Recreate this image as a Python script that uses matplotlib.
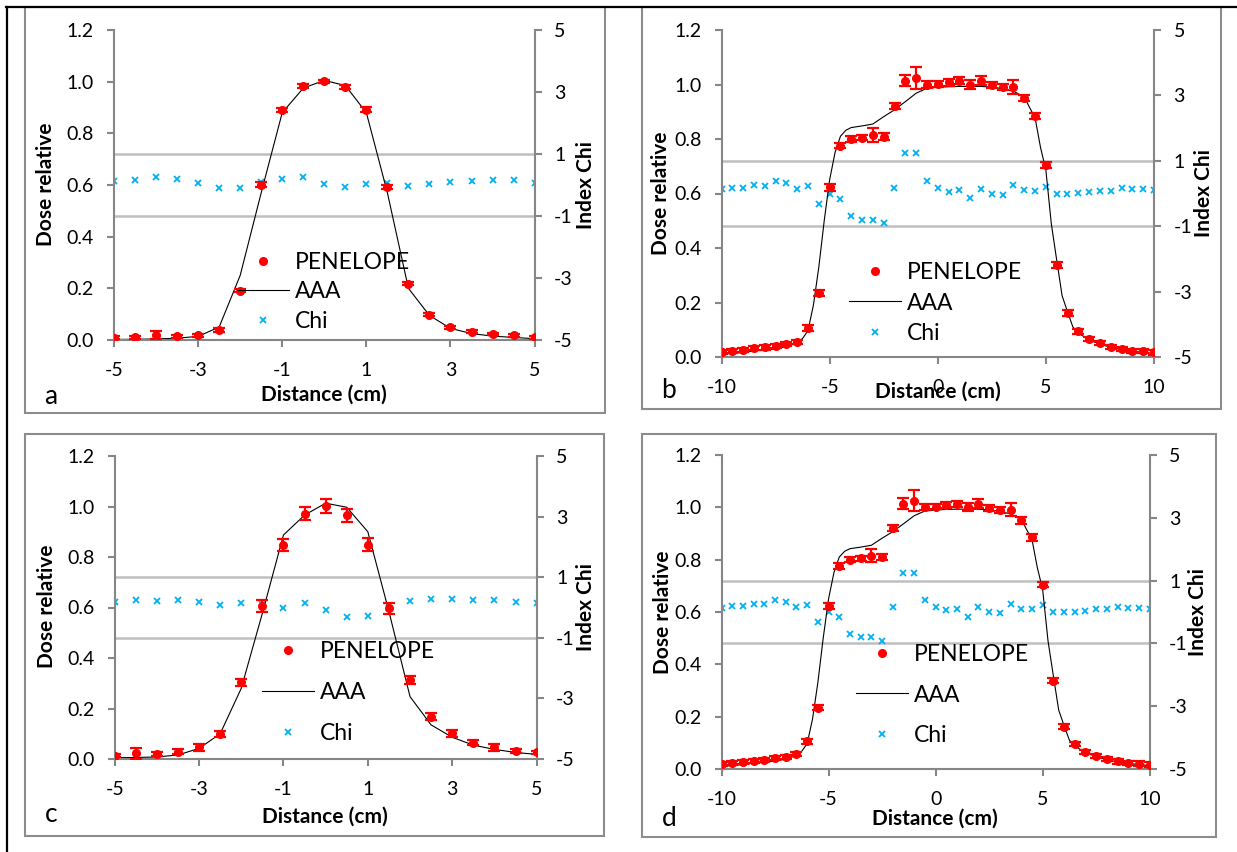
import matplotlib.pyplot as plt
from matplotlib.patches import Rectangle
from matplotlib.lines import Line2D

plt.rcParams['font.family'] = ['Lato', 'DejaVu Sans']
plt.rcParams['axes.unicode_minus'] = False

W, H = 1237, 852
GREY = '#868686'

# ---------------- data ----------------
# small field (a, c): -5..5 cm
x_small = [-5, -4.5, -4, -3.5, -3, -2.5, -2, -1.5, -1, -0.5, 0,
           0.5, 1, 1.5, 2, 2.5, 3, 3.5, 4, 4.5, 5]

pen_a = [0.009, 0.010, 0.018, 0.015, 0.018, 0.039, 0.190, 0.601, 0.889, 0.982, 1.001,
         0.981, 0.892, 0.591, 0.217, 0.098, 0.050, 0.032, 0.023, 0.018, 0.010]
err_a = [0.005, 0.005, 0.015, 0.006, 0.006, 0.008, 0.006, 0.010, 0.008, 0.008, 0.006,
         0.008, 0.008, 0.008, 0.006, 0.006, 0.006, 0.005, 0.005, 0.006, 0.005]
aaa_a = [0.002, 0.003, 0.004, 0.007, 0.014, 0.050, 0.250, 0.570, 0.880, 0.975, 1.005,
         0.985, 0.880, 0.570, 0.200, 0.095, 0.045, 0.025, 0.015, 0.010, 0.005]
chi_a = [0.14, 0.16, 0.27, 0.18, 0.08, -0.11, -0.11, 0.10, 0.19, 0.27, 0.02,
         -0.08, 0.02, 0.05, -0.02, 0.04, 0.09, 0.13, 0.16, 0.16, 0.08]

pen_c = [0.013, 0.022, 0.020, 0.029, 0.046, 0.099, 0.304, 0.606, 0.848, 0.972, 1.002,
         0.966, 0.848, 0.597, 0.313, 0.168, 0.102, 0.065, 0.046, 0.033, 0.026]
err_c = [0.006, 0.021, 0.008, 0.010, 0.013, 0.010, 0.014, 0.023, 0.025, 0.025, 0.026,
         0.026, 0.026, 0.022, 0.014, 0.014, 0.014, 0.011, 0.013, 0.008, 0.006]
aaa_c = [0.005, 0.006, 0.008, 0.016, 0.042, 0.100, 0.280, 0.577, 0.887, 0.966, 1.013,
         0.997, 0.900, 0.584, 0.247, 0.135, 0.086, 0.055, 0.038, 0.026, 0.018]
chi_c = [0.19, 0.25, 0.22, 0.25, 0.19, 0.07, 0.16, 0.10, 0.00, 0.16, -0.08,
         -0.32, -0.27, -0.03, 0.22, 0.27, 0.29, 0.24, 0.25, 0.19, 0.15]

# large field (b, d): -10..10 cm
x_large = [-10, -9.5, -9, -8.5, -8, -7.5, -7, -6.5,
           -6, -5.5, -5, -4.5, -4, -3.5, -3, -2.5,
           -2, -1.5, -1, -0.5, 0, 0.5, 1, 1.5,
           2, 2.5, 3, 3.5, 4, 4.5, 5, 5.5,
           6, 6.5, 7, 7.5, 8, 8.5, 9, 9.5, 10]
pen_b = [0.018, 0.023, 0.026, 0.032, 0.035, 0.041, 0.047, 0.056,
         0.106, 0.235, 0.623, 0.776, 0.800, 0.805, 0.815, 0.809,
         0.921, 1.014, 1.025, 1.000, 1.002, 1.008, 1.014, 1.000,
         1.014, 0.998, 0.990, 0.990, 0.950, 0.885, 0.705, 0.338,
         0.161, 0.094, 0.066, 0.051, 0.037, 0.029, 0.023, 0.021, 0.017]
err_b = [0.008, 0.008, 0.008, 0.008, 0.008, 0.008, 0.008, 0.008,
         0.010, 0.010, 0.012, 0.010, 0.010, 0.010, 0.025, 0.012,
         0.012, 0.020, 0.040, 0.012, 0.010, 0.012, 0.012, 0.015,
         0.017, 0.012, 0.012, 0.025, 0.012, 0.012, 0.010, 0.010,
         0.010, 0.008, 0.008, 0.008, 0.008, 0.008, 0.008, 0.008, 0.008]
chi_b = [0.13, 0.18, 0.18, 0.26, 0.24, 0.37, 0.32, 0.15,
         0.23, -0.32, -0.01, -0.17, -0.70, -0.80, -0.80, -0.91,
         0.16, 1.23, 1.25, 0.39, 0.16, 0.06, 0.10, -0.15,
         0.15, 0.00, -0.04, 0.26, 0.10, 0.09, 0.21, -0.01,
         0.00, 0.01, 0.04, 0.08, 0.09, 0.16, 0.13, 0.14, 0.11]
x_aaa_b = [-10, -9.5, -9, -8.5, -8, -7.5, -7, -6.5,
           -6.25, -6, -5.75, -5.5, -5.25, -5, -4.75, -4.5, -4.25, -4,
           -3.5, -3, -2.5, -2, -1.5, -1, -0.5, 0, 0.5, 1, 1.5, 2, 2.5, 3, 3.5,
           4, 4.25, 4.5, 4.75, 5, 5.25, 5.5, 5.75, 6, 6.25, 6.5,
           7, 7.5, 8, 8.5, 9, 9.5, 10]
aaa_b = [0.011, 0.013, 0.017, 0.022, 0.026, 0.030, 0.038, 0.052,
         0.068, 0.097, 0.19, 0.33, 0.50, 0.65, 0.75, 0.81, 0.832, 0.842,
         0.848, 0.855, 0.882, 0.907, 0.937, 0.968, 0.986, 0.99, 0.992, 0.993, 0.993, 0.993, 0.99, 0.985, 0.975,
         0.955, 0.915, 0.878, 0.77, 0.686, 0.49, 0.356, 0.225, 0.166, 0.11, 0.088,
         0.062, 0.048, 0.035, 0.027, 0.021, 0.017, 0.013]

ticks_small = [-5, -3, -1, 1, 3, 5]
ticks_large = [-10, -5, 0, 5, 10]
dose_ticks = [0.0, 0.2, 0.4, 0.6, 0.8, 1.0, 1.2]
chi_ticks = [-5, -3, -1, 1, 3, 5]


def fx(px):
    return px / W


def fy(py):
    return 1 - py / H


fig = plt.figure(figsize=(W / 100, H / 100), dpi=100)

# table-like black borders
fig.add_artist(Line2D([fx(6), fx(1237)], [fy(6.5), fy(6.5)], color='black', lw=1.6))
fig.add_artist(Line2D([fx(7), fx(7)], [fy(6.5), fy(852)], color='black', lw=1.6))


def panel(box, area, letter, letter_pos, xlab_pos, ylab_pos, y2lab_pos,
          leg_pos, lspace, x, pen, err, aaa_x, aaa, chi, xlim, xticks):
    l, t, r, b = box
    fig.add_artist(Rectangle((fx(l), fy(b)), fx(r - l), (b - t) / H, fill=False,
                             edgecolor='#8c8c8c', lw=1.5))
    l, t, r, b = area
    ax = fig.add_axes([fx(l), fy(b), fx(r - l), (b - t) / H])
    ax2 = ax.twinx()
    ax.set_zorder(ax2.get_zorder() + 1)
    ax.patch.set_visible(False)

    # chi index on the right axis, with the +-1 limits
    ax2.axhline(1, color='#bfbfbf', lw=1.8, zorder=1)
    ax2.axhline(-1, color='#bfbfbf', lw=1.8, zorder=1)
    h_chi, = ax2.plot(x, chi, 'x', color='#00b0f0', ms=4, mew=1.3, label='Chi')

    ax.errorbar(x, pen, yerr=err, fmt='none', ecolor='red', elinewidth=1.6,
                capsize=4, capthick=1.6, zorder=3)
    h_aaa, = ax.plot(aaa_x, aaa, color='black', lw=0.8, label='AAA', zorder=2)
    h_pen, = ax.plot(x, pen, 'o', color='red', ms=5.5, label='PENELOPE', zorder=4)

    ax.set_xlim(xlim)
    ax.set_ylim(0, 1.2)
    ax2.set_ylim(-5, 5)
    ax.set_xticks(xticks)
    ax.set_xticklabels([str(v) for v in xticks])
    ax.set_yticks(dose_ticks)
    ax.set_yticklabels(['{:.1f}'.format(v) for v in dose_ticks])
    ax2.set_yticks(chi_ticks)
    ax2.set_yticklabels([str(v) for v in chi_ticks])

    for a in (ax, ax2):
        for s in a.spines.values():
            s.set_visible(False)
    ax.spines['left'].set_visible(True)
    ax.spines['bottom'].set_visible(True)
    ax2.spines['right'].set_visible(True)
    for s in (ax.spines['left'], ax.spines['bottom'], ax2.spines['right']):
        s.set_color(GREY)
        s.set_linewidth(1.5)
    ax.tick_params(axis='x', direction='out', length=5, width=1.5, color=GREY,
                   labelsize=14, pad=11)
    ax.tick_params(axis='y', direction='out', length=5, width=1.5, color=GREY,
                   labelsize=14, pad=9.5)
    ax2.tick_params(axis='y', direction='out', length=5, width=1.5, color=GREY,
                    labelsize=14, pad=9)

    fig.text(fx(xlab_pos[0]), fy(xlab_pos[1]), 'Distance (cm)', ha='center', va='center',
             fontsize=15, fontweight='bold')
    fig.text(fx(ylab_pos[0]), fy(ylab_pos[1]), 'Dose relative', ha='center', va='center',
             rotation=90, fontsize=15, fontweight='bold')
    fig.text(fx(y2lab_pos[0]), fy(y2lab_pos[1]), 'Index Chi', ha='center', va='center',
             rotation=90, fontsize=15, fontweight='bold')
    fig.text(fx(letter_pos[0]), fy(letter_pos[1]), letter, ha='left', va='center',
             fontsize=19)

    ax.legend(handles=[h_pen, h_aaa, h_chi], loc='center left',
              bbox_to_anchor=(fx(leg_pos[0]), fy(leg_pos[1])), bbox_transform=fig.transFigure,
              frameon=False, fontsize=16.5, handlelength=2.25, handletextpad=0.27,
              labelspacing=lspace, borderpad=0, borderaxespad=0)


panel((24.5, 7, 604.5, 413), (114, 30, 534.6, 340), 'a', (44, 397), (324, 395),
      (45.5, 184), (586, 185), (237, 292), 0.36,
      x_small, pen_a, err_a, x_small, aaa_a, chi_a, (-5, 5), ticks_small)
panel((641.6, 7, 1220.5, 409), (721.5, 30, 1154, 357), 'b', (661, 390), (938, 392),
      (661, 193), (1203.6, 193), (849, 303), 0.40,
      x_large, pen_b, err_b, x_aaa_b, aaa_b, chi_b, (-10, 10), ticks_large)
panel((24.9, 434, 604.2, 836), (114.7, 456, 536.6, 759), 'c', (45, 814), (325, 817),
      (46.7, 606.7), (586.4, 606.7), (262, 692.7), 0.88,
      x_small, pen_c, err_c, x_small, aaa_c, chi_c, (-5, 5), ticks_small)
panel((641.6, 434, 1216, 837), (721.5, 455, 1149.7, 769), 'd', (662, 818), (935, 819),
      (663, 612.5), (1197.7, 612.5), (856, 695), 0.84,
      x_large, pen_b, err_b, x_aaa_b, aaa_b, chi_b, (-10, 10), ticks_large)

fig.savefig('out.png', dpi=100)
